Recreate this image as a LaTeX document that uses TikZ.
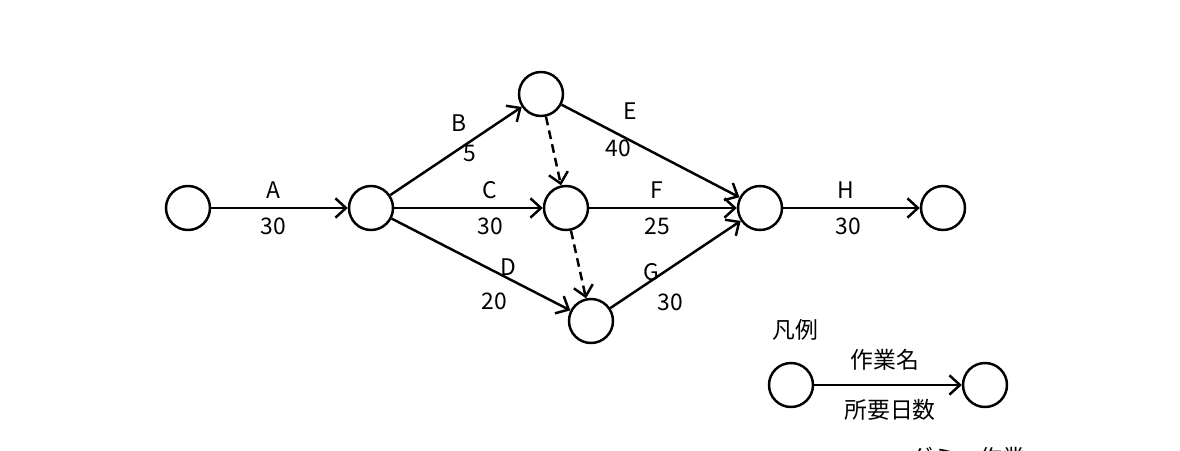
\documentclass[tikz,border=0pt]{standalone}
\usepackage{fontspec}
\setmainfont{Noto Sans CJK JP}
\usetikzlibrary{arrows.meta}
\begin{document}
\begin{tikzpicture}[x=0.02cm,y=-0.02cm,line width=1.4pt,
  event/.style={draw,circle,minimum size=0.88cm,inner sep=0pt},
  act/.style={-{Straight Barb[length=6pt,width=11pt]}},
  dummy/.style={act,dashed,dash pattern=on 5pt off 3pt},
  lbl/.style={font=\fontsize{13}{15}\selectfont}]
\useasboundingbox (0,0) rectangle (1180,450);
% events
\node[event] (n1) at (188,208) {};
\node[event] (n2) at (371,208) {};
\node[event] (n3) at (541,94) {};
\node[event] (n4) at (566,208) {};
\node[event] (n5) at (591,321) {};
\node[event] (n6) at (760,208) {};
\node[event] (n7) at (943,208) {};
% activities
\draw[act] (n1) -- (n2);
\draw[act] (n2) -- (n3);
\draw[act] (n2) -- (n4);
\draw[act] (n2) -- (n5);
\draw[act] (n3) -- (n6);
\draw[act] (n4) -- (n6);
\draw[act] (n5) -- (n6);
\draw[act] (n6) -- (n7);
\draw[dummy] (n3) -- (n4);
\draw[dummy] (n4) -- (n5);
% labels
\node[lbl] at (273,190) {A}; \node[lbl] at (273,226) {30};
\node[lbl] at (459,123) {B}; \node[lbl] at (470,154) {5};
\node[lbl] at (490,190) {C}; \node[lbl] at (490,226) {30};
\node[lbl] at (508,267) {D}; \node[lbl] at (494,301) {20};
\node[lbl] at (630,111) {E}; \node[lbl] at (618,148) {40};
\node[lbl] at (657,190) {F}; \node[lbl] at (657,226) {25};
\node[lbl] at (651,272) {G}; \node[lbl] at (670,302) {30};
\node[lbl] at (846,190) {H}; \node[lbl] at (848,226) {30};
% legend
\node[lbl] (key) at (795,330) {凡例};
\node[event] (l1) at (791,385) {};
\node[event] (l2) at (985,385) {};
\draw[act] (l1) -- (l2);
\node[lbl] at (885,360) {作業名};
\node[lbl] at (890,410) {所要日数};
\node[lbl] at (968,458) {ダミー作業};
\end{tikzpicture}
\end{document}
